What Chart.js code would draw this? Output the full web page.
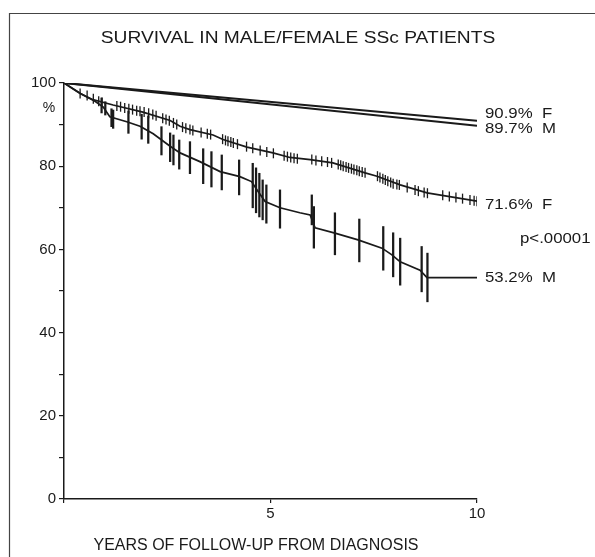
<!DOCTYPE html>
<html>
<head>
<meta charset="utf-8">
<script src="https://cdn.jsdelivr.net/npm/chart.js@4.4.1/dist/chart.umd.min.js"></script>
<style>
  html, body { margin: 0; padding: 0; background: #fff; }
  canvas { display: block; }
</style>
</head>
<body>
<canvas id="chart" width="595" height="557"></canvas>
<script>
// expected survival (general population), straight lines
const expTimes = [0, 10];
const expFemale = [100, 90.9];
const expMale = [100, 89.7];

// Kaplan-Meier, female
const femaleTimes = [0, 0.39, 0.7, 1.19, 1.91, 2.57, 2.81, 3.05, 3.61, 3.85, 4.43, 5.06, 5.47, 5.96, 6.51, 7.29, 7.58, 8.14, 8.79, 10];
const femaleSurv = [100, 97.5, 96.0, 94.7, 93.0, 91.0, 89.6, 88.8, 87.5, 86.4, 84.6, 83.2, 82.1, 81.6, 80.8, 78.4, 77.6, 75.5, 73.6, 71.6];

// Kaplan-Meier, male
const maleTimes = [0, 0.4, 0.75, 0.95, 1.11, 1.52, 1.84, 2.16, 2.57, 2.81, 3.29, 3.78, 4.26, 4.54, 4.7, 4.87, 5.23, 5.71, 5.96, 6.08, 6.56, 7.12, 7.7, 7.94, 8.14, 8.62, 8.79, 10];
const maleSurv = [100, 97.5, 95.6, 94.2, 91.9, 90.7, 89.6, 87.8, 84.8, 83.2, 81.1, 78.7, 77.5, 76.3, 73.9, 71.5, 70.0, 68.8, 68.3, 65.2, 63.9, 62.3, 60.3, 58.7, 57.0, 55.0, 53.2, 53.2];

// censor ticks on the female curve
const femaleCensorTimes = [0.39, 0.56, 0.71, 0.84, 0.92, 1.28, 1.37, 1.47, 1.57, 1.66, 1.76, 1.84, 1.94, 2.05, 2.15, 2.23, 2.39, 2.47, 2.55, 2.65, 2.73, 2.87, 2.95, 3.05, 3.12, 3.32, 3.47, 3.55, 3.84, 3.91, 3.97, 4.04, 4.10, 4.20, 4.42, 4.57, 4.75, 4.91, 5.07, 5.33, 5.41, 5.49, 5.57, 5.65, 6.00, 6.10, 6.24, 6.38, 6.48, 6.64, 6.70, 6.76, 6.83, 6.89, 6.96, 7.02, 7.09, 7.15, 7.22, 7.29, 7.59, 7.65, 7.72, 7.78, 7.84, 7.91, 7.97, 8.06, 8.12, 8.31, 8.50, 8.58, 8.72, 8.80, 9.17, 9.33, 9.49, 9.65, 9.83, 9.93, 10.0];
const femaleCensorSurv = [97.5, 97.0, 96.2, 95.6, 95.3, 94.5, 94.3, 94.0, 93.8, 93.6, 93.3, 93.2, 93.0, 92.7, 92.4, 92.1, 91.5, 91.2, 90.9, 90.4, 90.0, 89.4, 89.1, 88.8, 88.6, 88.1, 87.8, 87.6, 86.5, 86.2, 86.0, 85.8, 85.6, 85.3, 84.7, 84.3, 83.8, 83.4, 83.1, 82.5, 82.3, 82.1, 81.9, 81.8, 81.6, 81.4, 81.2, 81.0, 80.8, 80.4, 80.2, 80.0, 79.8, 79.6, 79.4, 79.2, 79.0, 78.8, 78.6, 78.4, 77.6, 77.3, 77.0, 76.7, 76.4, 76.1, 75.8, 75.6, 75.5, 74.9, 74.3, 74.0, 73.7, 73.5, 73.0, 72.7, 72.5, 72.2, 71.9, 71.7, 71.6];

// vertical bars on the male curve
const maleBarTimes = [0.91, 1.0, 1.15, 1.19, 1.56, 1.88, 2.04, 2.36, 2.57, 2.65, 2.79, 3.05, 3.37, 3.57, 3.82, 4.24, 4.57, 4.65, 4.73, 4.81, 4.90, 5.23, 6.0, 6.05, 6.56, 7.15, 7.73, 7.97, 8.14, 8.66, 8.8];
const maleBarLow = [92.8, 92.3, 89.5, 89.1, 87.9, 86.5, 85.5, 82.7, 81.1, 80.3, 79.3, 78.2, 75.8, 75.0, 74.3, 73.1, 70.0, 68.8, 67.8, 67.1, 66.3, 65.1, 65.9, 60.3, 58.7, 57.0, 55.0, 53.4, 51.4, 49.8, 47.4];
const maleBarHigh = [96.4, 95.5, 93.8, 93.5, 93.3, 92.5, 92.1, 89.5, 88.0, 87.5, 86.3, 85.9, 84.2, 83.5, 82.7, 81.5, 80.7, 79.6, 78.3, 76.7, 75.5, 74.3, 73.1, 70.3, 68.8, 67.3, 65.5, 64.0, 62.7, 60.7, 59.1];

// end-of-curve labels
const endLabels = ['90.9%  F', '89.7%  M', '71.6%  F', '53.2%  M'];
const endValues = [90.9, 89.7, 71.6, 53.2];

const yTicks = [0, 20, 40, 60, 80, 100];
const xTicks = [5, 10];

const ink = '#1a1a1a';

function pts(xs, ys) {
    return xs.map((x, i) => ({ x: x, y: ys[i] }));
}

function drawText(ctx, txt, x, y, sx, align) {
    ctx.save();
    ctx.translate(x, y);
    ctx.scale(sx, 1);
    ctx.textAlign = align;
    ctx.fillText(txt, 0, 0);
    ctx.restore();
}

const decor = {
    id: 'decor',
    beforeDraw(chart) {
        const ctx = chart.ctx;
        ctx.save();
        ctx.fillStyle = '#fff';
        ctx.fillRect(0, 0, chart.width, chart.height);
        // scan frame (left and top)
        ctx.strokeStyle = '#444';
        ctx.lineWidth = 1.2;
        ctx.beginPath();
        ctx.moveTo(9.5, chart.height);
        ctx.lineTo(9.5, 13.5);
        ctx.lineTo(chart.width, 13.5);
        ctx.stroke();
        ctx.restore();
    },
    afterDraw(chart) {
        const ctx = chart.ctx;
        const xs = chart.scales.x, ys = chart.scales.y;
        const nudge = [-7, 3, 4, 0];
        ctx.save();
        ctx.fillStyle = ink;
        ctx.textBaseline = 'middle';

        ctx.font = '16px "Liberation Sans", Arial, sans-serif';
        drawText(ctx, 'SURVIVAL IN MALE/FEMALE SSc PATIENTS', 298, 39, 1.2, 'center');
        drawText(ctx, 'YEARS OF FOLLOW-UP FROM DIAGNOSIS', 256, 546, 1.0, 'center');

        ctx.font = '14px "Liberation Sans", Arial, sans-serif';
        drawText(ctx, '%', 49, ys.getPixelForValue(100) + 25, 1.0, 'center');

        const xEnd = xs.getPixelForValue(10) + 8;
        endLabels.forEach((lab, i) => {
            drawText(ctx, lab, xEnd, ys.getPixelForValue(endValues[i]) + nudge[i], 1.2, 'left');
        });
        drawText(ctx, 'p<.00001', xEnd + 35, ys.getPixelForValue(62.4), 1.2, 'left');
        ctx.restore();
    }
};

new Chart(document.getElementById('chart'), {
    type: 'line',
    data: {
        datasets: [
            {
                data: pts(expTimes, expFemale),
                borderColor: ink, borderWidth: 2, pointRadius: 0, tension: 0
            },
            {
                data: pts(expTimes, expMale),
                borderColor: ink, borderWidth: 2, pointRadius: 0, tension: 0
            },
            {
                data: pts(femaleTimes, femaleSurv),
                borderColor: ink, borderWidth: 1.7, pointRadius: 0, tension: 0
            },
            {
                data: pts(maleTimes, maleSurv),
                borderColor: ink, borderWidth: 1.7, pointRadius: 0, tension: 0
            },
            {
                data: pts(femaleCensorTimes, femaleCensorSurv),
                showLine: false,
                pointStyle: 'line',
                pointRotation: 90,
                pointRadius: 5,
                pointBorderWidth: 1.3,
                pointBorderColor: ink,
                pointBackgroundColor: ink
            },
            {
                type: 'bar',
                data: maleBarTimes.map((t, i) => ({ x: t, y: [maleBarLow[i], maleBarHigh[i]] })),
                backgroundColor: ink,
                borderWidth: 0,
                barThickness: 1.6,
                grouped: false
            }
        ]
    },
    options: {
        responsive: false,
        animation: false,
        events: [],
        layout: { padding: { left: 0, top: 83, right: 118, bottom: 0 } },
        scales: {
            x: {
                type: 'linear',
                min: 0,
                max: 10,
                offset: false,
                afterFit: (s) => { s.height = 58; },
                border: { display: true, color: ink, width: 1.5 },
                grid: { offset: false, drawOnChartArea: false, drawTicks: true, tickLength: 4, color: ink, lineWidth: 1.2 },
                ticks: {
                    stepSize: 5,
                    padding: 2,
                    color: ink,
                    font: { family: '"Liberation Sans", Arial, sans-serif', size: 15 },
                    callback: (v) => xTicks.includes(v) ? String(v) : ''
                }
            },
            y: {
                min: 0,
                max: 100,
                afterFit: (s) => { s.width = 64; },
                border: { display: true, color: ink, width: 1.5 },
                grid: { drawOnChartArea: false, drawTicks: true, tickLength: 5, color: ink, lineWidth: 1.2 },
                ticks: {
                    stepSize: 10,
                    padding: 3,
                    color: ink,
                    font: { family: '"Liberation Sans", Arial, sans-serif', size: 15 },
                    callback: (v) => yTicks.includes(v) ? String(v) : ''
                }
            }
        },
        plugins: {
            legend: { display: false },
            title: { display: false },
            tooltip: { enabled: false }
        }
    },
    plugins: [decor]
});
</script>
</body>
</html>
